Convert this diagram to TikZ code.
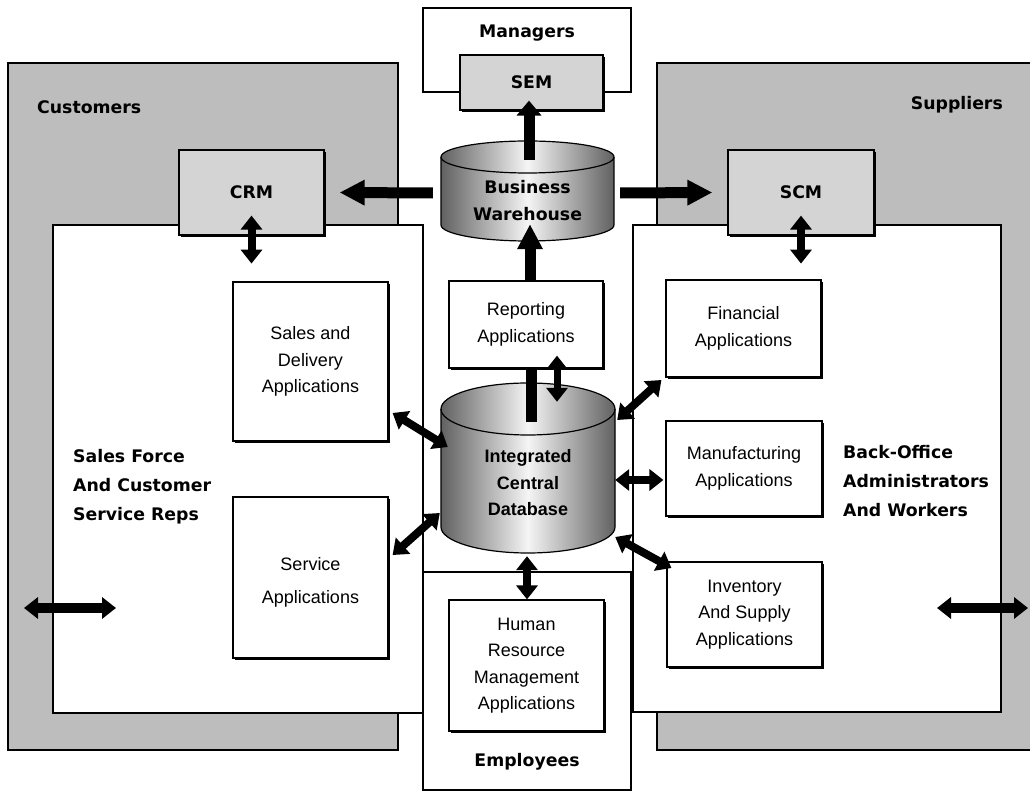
\documentclass[tikz,border=0pt]{standalone}
\usepackage{fontspec}
\setmainfont{Liberation Sans}
\newfontfamily\heavyfont{DejaVu Sans}
\usetikzlibrary{calc}
\usetikzlibrary{arrows.meta}
\usetikzlibrary{shadows}

\tikzset{
  box/.style={draw, line width=1.2pt, fill=white, align=center, inner sep=0pt,
    font=\fontsize{18}{26.5}\selectfont,
    drop shadow={shadow xshift=1.6pt, shadow yshift=-1.6pt, fill=black, opacity=1}},
  graybox/.style={box, fill=black!17},
  heavy/.style={font=\heavyfont\bfseries\fontsize{17.3}{29}\selectfont, align=center, inner sep=0pt},
  dbtext/.style={font=\bfseries\fontsize{18}{26.5}\selectfont, align=center, inner sep=0pt},
  panel/.style={draw, line width=1.2pt},
  fat/.style={line width=11pt, -{Triangle[length=25pt,width=24pt]}},
  dbl/.style={line width=8pt, {Triangle[length=14pt,width=21pt]}-{Triangle[length=14pt,width=21pt]}},
}

% cylinder: centre x, top y, bottom y, x radius, y radius
\newcommand\dbcyl[5]{%
  \draw[line width=1.2pt, left color=black!62, right color=black!62, middle color=black!4]
    (#1-#4,#2) -- (#1-#4,#3) arc[start angle=180, end angle=360, x radius=#4pt, y radius=#5pt]
    -- (#1+#4,#2) arc[start angle=0, end angle=180, x radius=#4pt, y radius=#5pt] -- cycle;
  \draw[line width=1.2pt] (#1-#4,#2) arc[start angle=180, end angle=360, x radius=#4pt, y radius=#5pt];
}

\begin{document}
\begin{tikzpicture}[x=1pt, y=1pt]
  \clip (0,0) rectangle (1030,798);

  % outer areas
  \filldraw[panel, fill=black!26] (8,48) rectangle (398,735);
  \filldraw[panel, fill=black!26] (657,48) rectangle (1040,735);
  \filldraw[panel, fill=white] (53,85) rectangle (423,573);
  \filldraw[panel, fill=white] (633,86) rectangle (1001,573);
  \filldraw[panel, fill=white] (423,8) rectangle (631,226);
  \filldraw[panel, fill=white] (423,706) rectangle (631,790);

  \node[heavy, anchor=west] (customers) at (37,691) {Customers};
  \node[heavy, anchor=east] (suppliers) at (1003,693) {Suppliers};
  \node[heavy] (managers) at (527,765) {Managers};
  \node[heavy] (employees) at (527,36) {Employees};
  \node[heavy, anchor=west, align=left] (salesforce) at (73,311) {Sales Force\\And Customer\\Service Reps};
  \node[heavy, anchor=west, align=left] (backoffice) at (843,317) {Back-Office\\Administrators\\And Workers};

  % boxes
  \node[graybox, heavy, minimum width=145pt, minimum height=85pt] (crm) at (251.5,605.5) {CRM};
  \node[graybox, heavy, minimum width=146pt, minimum height=85pt] (scm) at (801,605.5) {SCM};
  \node[graybox, heavy, minimum width=143pt, minimum height=55pt] (sem) at (531.5,715.5) {SEM};
  \node[box, minimum width=154pt, minimum height=87pt] (reporting) at (526,473.5) {Reporting\\Applications};
  \node[box, minimum width=155pt, minimum height=159pt] (sales) at (310.5,436.5) {Sales and\\Delivery\\Applications};
  \node[box, minimum width=155pt, minimum height=161pt] (service) at (310.5,220.5) {\rule{0pt}{23pt}Service\\[6pt]Applications};
  \node[box, minimum width=155pt, minimum height=97pt] (financial) at (743.5,469.5) {Financial\\Applications};
  \node[box, minimum width=156pt, minimum height=95pt] (manufacturing) at (744,329.5) {Manufacturing\\Applications};
  \node[box, minimum width=155pt, minimum height=105pt] (inventory) at (744.5,183.5) {Inventory\\And Supply\\Applications};
  \node[box, minimum width=155pt, minimum height=131pt] (hrm) at (526.5,132.5) {Human\\Resource\\Management\\Applications};

  % databases
  \dbcyl{527.5}{641}{573}{86.5}{16}
  \node[minimum width=173pt, minimum height=84pt, inner sep=0pt] (bw) at (527.5,599) {};
  \node[heavy, font=\heavyfont\bfseries\fontsize{17.3}{27}\selectfont] (bwlabel) at (527.5,597) {Business\\Warehouse};
  \dbcyl{528}{389}{271}{87}{26}
  \node[minimum width=174pt, minimum height=170pt, inner sep=0pt] (icd) at (528,330) {};
  \node[dbtext] (icdlabel) at (528,315) {Integrated\\Central\\Database};

  % arrows
  \draw[fat, -{Triangle[length=15pt,width=24pt]}] ($(bw.north)+(1.5,-3)$) -- ($(sem.south)+(-2.5,10)$);
  \draw[fat] ($(bw.west)+(-8,6)$) -- ($(crm.east)+(15,0)$);
  \draw[fat] ($(bw.east)+(6,6)$) -- ($(scm.west)+(-15,0)$);
  \draw[fat] ($(reporting.north)+(4,0)$) -- ($(bw.south)+(2.5,17)$);
  \draw[dbl] ($(crm.south)+(0,20)$) -- ($(crm.south)+(0,-28)$);
  \draw[dbl] ($(scm.south)+(0,20)$) -- ($(scm.south)+(0,-28)$);
  \draw[line width=11pt] ($(reporting.south)+(5,0)$) -- ($(icd.north)+(3,-39)$);
  \draw[dbl, line width=7pt] ($(reporting.south)+(31,13)$) -- ($(icd.north)+(29,-19)$);
  \draw[dbl] ($(sales.east)+(4,-51.5)$) -- ($(icd.west)+(7,21)$);
  \draw[dbl] ($(service.east)+(4,22.5)$) -- ($(icd.west)+(-1,-45)$);
  \draw[dbl] ($(icd.east)+(2,48)$) -- ($(financial.west)+(-4,-51.5)$);
  \draw[dbl] ($(icd.east)+(0,-12)$) -- ($(manufacturing.west)+(-2,-11.5)$);
  \draw[dbl] ($(icd.east)+(0,-69)$) -- ($(inventory.west)+(5,46.5)$);
  \draw[dbl] ($(icd.south)+(-1,-3)$) -- ($(hrm.north)+(0.5,0)$);
  \coordinate (custout) at (24,190);
  \coordinate (custin) at (116,190);
  \coordinate (suppin) at (937,190);
  \coordinate (suppout) at (1028,190);
  \draw[dbl, line width=10pt] (custout) -- (custin);
  \draw[dbl, line width=10pt] (suppin) -- (suppout);
\end{tikzpicture}
\end{document}
